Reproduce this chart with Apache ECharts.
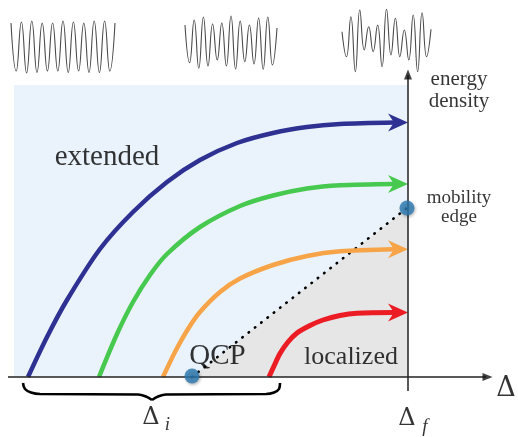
<!DOCTYPE html>
<html><head><meta charset="utf-8">
<script src="https://cdn.jsdelivr.net/npm/echarts@6/dist/echarts.min.js"></script>
<style>html,body{margin:0;padding:0;background:#fff}#c{width:518px;height:437px}</style>
</head><body><div id="c"></div>
<script>
// ---------------- data (diagram units: x = Δ, y = energy density) ----------------
const deltaF = 40;                 // position of Δ_f on the Δ axis
const qcp = [18.4, 0];             // quantum critical point
const mobilityEdge = [39.9, 16.9]; // mobility edge on the Δ_f line
const extendedLeft = 0.6, extendedTop = 29.2;

const navyX   = [2.0, 3.9, 5.9, 9.2, 12.5, 15.9, 19.2, 22.9, 26.5, 29.9, 33.2, 38.6];
const navyY   = [0, 4.0, 7.7, 12.8, 16.5, 19.5, 21.7, 23.4, 24.4, 25.0, 25.3, 25.45];
const greenX  = [9.1, 10.9, 12.5, 14.2, 15.9, 19.2, 23.2, 26.5, 29.9, 33.2, 38.6];
const greenY  = [0, 4.3, 7.5, 10.2, 12.3, 15.0, 17.1, 18.15, 18.85, 19.17, 19.3];
const orangeX = [15.5, 16.7, 18.0, 19.2, 21.2, 23.2, 26.5, 29.9, 33.2, 38.6];
const orangeY = [0, 2.5, 4.8, 6.5, 8.5, 9.85, 11.2, 12.1, 12.57, 12.78];
const redX    = [26.1, 26.6, 27.2, 28.0, 28.9, 30.2, 31.5, 33.2, 34.9, 38.6];
const redY    = [0, 1.1, 2.35, 3.5, 4.4, 5.15, 5.7, 6.15, 6.37, 6.45];

const braceLeftX  = [1.5, 1.7, 2.3, 3.2, 13.0, 13.8, 14.4];
const braceLeftY  = [-0.6, -1.2, -1.55, -1.7, -1.75, -1.95, -2.3];
const braceRightX = [14.4, 15.0, 15.8, 25.8, 26.6, 27.1, 27.2];
const braceRightY = [-2.3, -1.95, -1.75, -1.7, -1.55, -1.2, -0.6];

// wavefunction snapshots: alternating maxima / minima (amplitude)
const wave1 = [22,-26,23,-28,24,-27.5,22,-26,22,-26,24,-27.5,23,-26,22,-27.5,24,-27.5,24,-26,22];
const wave2 = [20,-17.7,25,-23.3,28,-21,21,-15,22,-21,29,-24,24,-16.7,20,-19,27,-24.3,28,-20,17];
const wave3 = [13.3,-11.7,28.3,-26.7,35,-5,18.3,-6.7,20,-21.7,35.7,-10,26.7,-11.7,15,-15,30,-26.7,32.3,-11.7,15.7];

const txtExtended = 'extended', txtQCP = 'QCP', txtLocalized = 'localized';
const txtEnergy = 'energy\ndensity', txtMobility = 'mobility\nedge';
const txtDelta = 'Δ', subI = 'i', subF = 'f';

// ---------------- chart ----------------
const zip = (xs, ys) => xs.map((x, i) => [x, ys[i]]);
const serif = "'Liberation Serif', 'DejaVu Serif', serif";
const chart = echarts.init(document.getElementById('c'), null, {renderer: 'canvas'});

function curve(xs, ys, color, w) {
  return {type: 'line', xAxisIndex: 0, yAxisIndex: 0, data: zip(xs, ys), smooth: 0.3,
    symbol: 'none', lineStyle: {color: color, width: w, cap: 'butt'}, z: 4, silent: true};
}
function waveSeries(arr, idx) {
  return {type: 'line', xAxisIndex: idx, yAxisIndex: idx, data: arr.map((v, i) => [i, v]),
    smooth: 0.5, symbol: 'none', lineStyle: {color: '#4a4a4a', width: 1.1}, z: 3, silent: true};
}
function txt(pos, text, size, extra) {
  return {value: pos, label: Object.assign({show: true, formatter: text, fontSize: size,
    fontFamily: serif, color: '#000', position: 'inside', align: 'center', verticalAlign: 'middle'}, extra || {})};
}
const colors = ['#2e3192', '#47c84f', '#f6a447', '#ec1c24'];
const tipsY = [navyY, greenY, orangeY, redY].map(a => a[a.length - 1]);

const option = {
  animation: false,
  grid: [
    {left: 0, right: 0, top: 0, bottom: 0},
    {left: 11, width: 104, top: 0, height: 90},
    {left: 185, width: 92, top: 0, height: 90},
    {left: 342, width: 89, top: 0, height: 90}
  ],
  xAxis: [
    {gridIndex: 0, type: 'value', min: -0.8, max: 51, show: false},
    {gridIndex: 1, type: 'value', min: 0, max: wave1.length - 1, show: false},
    {gridIndex: 2, type: 'value', min: 0, max: wave2.length - 1, show: false},
    {gridIndex: 3, type: 'value', min: 0, max: wave3.length - 1, show: false}
  ],
  yAxis: [
    {gridIndex: 0, type: 'value', min: -6, max: 37.7, show: false},
    {gridIndex: 1, type: 'value', min: -45, max: 45, show: false},
    {gridIndex: 2, type: 'value', min: -45, max: 45, show: false},
    {gridIndex: 3, type: 'value', min: -45, max: 45, show: false}
  ],
  series: [
    {type: 'line', data: [[extendedLeft, extendedTop], [deltaF, extendedTop]], symbol: 'none',
      lineStyle: {width: 0}, areaStyle: {color: '#eaf3fc', opacity: 1}, z: 1, silent: true},
    {type: 'line', data: [qcp, [deltaF, mobilityEdge[1]]], symbol: 'none',
      lineStyle: {width: 0}, areaStyle: {color: '#e6e6e6', opacity: 1}, z: 2, silent: true},
    {type: 'line', data: [qcp, mobilityEdge], symbol: 'none', z: 3, silent: true,
      lineStyle: {color: '#000', width: 2.6, type: [0.5, 7.5], cap: 'round'}},
    curve(navyX, navyY, colors[0], 4.5),
    curve(greenX, greenY, colors[1], 4.5),
    curve(orangeX, orangeY, colors[2], 4.5),
    curve(redX, redY, colors[3], 5),
    // arrowheads at Δ_f
    {type: 'custom', xAxisIndex: 0, yAxisIndex: 0, z: 5, silent: true,
      data: tipsY.map(y => [deltaF, y]),
      renderItem: function (params, api) {
        const p = api.coord([api.value(0), api.value(1)]);
        return {type: 'polygon', shape: {points: [[p[0], p[1]], [p[0] - 20, p[1] - 9], [p[0] - 14, p[1]], [p[0] - 20, p[1] + 9]]},
          style: {fill: colors[params.dataIndex]}};
      }},
    // axes
    {type: 'line', data: [[0, 0], [47.8, 0]], symbol: 'none', lineStyle: {color: '#222', width: 1.5}, z: 6, silent: true},
    {type: 'line', data: [[deltaF, -1.4], [deltaF, 30.2]], symbol: 'none', lineStyle: {color: '#222', width: 1.5}, z: 6, silent: true},
    {type: 'scatter', symbol: 'triangle', symbolSize: [8, 10], z: 6, silent: true,
      itemStyle: {color: '#111'},
      data: [{value: [47.95, 0], symbolRotate: -90}, {value: [deltaF, 30.25], symbolRotate: 0}]},
    // brace
    {type: 'line', data: zip(braceLeftX, braceLeftY), smooth: 0.4, symbol: 'none', lineStyle: {color: '#000', width: 2.6}, z: 6, silent: true},
    {type: 'line', data: zip(braceRightX, braceRightY), smooth: 0.4, symbol: 'none', lineStyle: {color: '#000', width: 2.6}, z: 6, silent: true},
    // critical points
    {type: 'scatter', symbol: 'circle', symbolSize: 15, z: 7, silent: true,
      itemStyle: {color: '#2b79b0', shadowBlur: 3, shadowColor: 'rgba(0,0,0,0.35)', shadowOffsetX: 1, shadowOffsetY: 1.5},
      data: [qcp.map((v, i) => i === 1 ? v + 0.1 : v), mobilityEdge]},
    // waves
    waveSeries(wave1, 1), waveSeries(wave2, 2), waveSeries(wave3, 3),
    // texts
    {type: 'scatter', symbolSize: 0, z: 10, silent: true, data: [
      txt([9.9, 22.0], txtExtended, 29),
      txt([20.95, 2.1], txtQCP, 29),
      txt([34.3, 2.0], txtLocalized, 26),
      txt([45.1, 28.7], txtEnergy, 21, {lineHeight: 22}),
      txt([45.1, 16.9], txtMobility, 19, {lineHeight: 19}),
      txt([49.8, -1.2], txtDelta, 27, {fontFamily: "'DejaVu Serif', serif"}),
      txt([14.3, -4.1], txtDelta, 24, {fontFamily: "'DejaVu Serif', serif"}),
      txt([15.95, -4.8], subI, 19, {fontStyle: 'italic'}),
      txt([39.9, -4.2], txtDelta, 24, {fontFamily: "'DejaVu Serif', serif"}),
      txt([41.7, -5.0], subF, 19, {fontStyle: 'italic'})
    ]}
  ]
};
chart.setOption(option);
</script>
</body></html>
